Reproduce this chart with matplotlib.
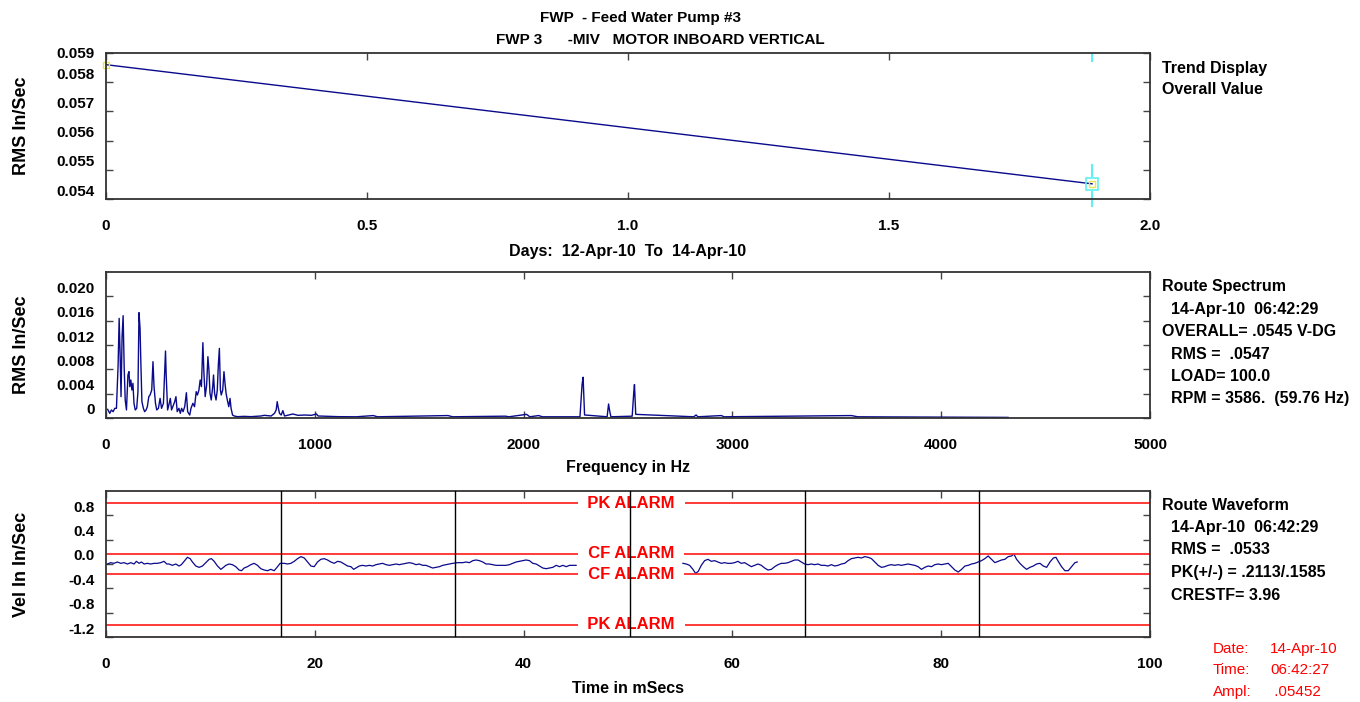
# -*- coding: utf-8 -*-
"""FWP 3 motor inboard vertical - trend, route spectrum and route waveform."""

import matplotlib.pyplot as plt
from matplotlib.transforms import ScaledTranslation

plt.rcParams["font.family"] = ["Liberation Sans", "DejaVu Sans"]
plt.rcParams["font.weight"] = "bold"
plt.rcParams["axes.labelweight"] = "bold"

# ---------------- data ----------------
trend_days = [0.0, 1.889]
trend_rms = [0.0586, 0.05452]

spec_hz = [8, 18, 26, 34, 42, 50, 58, 63, 68, 72,
           77, 82, 87, 92, 98, 105, 110, 114, 119, 124,
           129, 134, 140, 147, 153, 158, 163, 167, 172, 179,
           185, 192, 198, 205, 211, 219, 225, 230, 237, 243,
           251, 259, 266, 275, 282, 285, 288, 295, 301, 308,
           314, 320, 329, 335, 341, 349, 356, 362, 369, 377,
           385, 391, 401, 407, 416, 424, 432, 438, 445, 451,
           457, 464, 469, 475, 482, 488, 493, 498, 504, 511,
           515, 520, 527, 533, 538, 543, 548, 552, 559, 565,
           570, 575, 581, 588, 594, 599, 606, 614, 630, 662,
           694, 742, 758, 791, 807, 815, 820, 824, 831, 839,
           847, 855, 895, 919, 952, 984, 1008, 1016, 1113, 1200,
           1280, 1300, 1638, 1660, 1913, 1930, 2014, 2030, 2072, 2090,
           2270, 2280, 2285, 2292, 2400, 2407, 2412, 2418, 2520, 2528,
           2531, 2537, 2815, 2826, 2835, 2947, 2960, 3570, 3600, 4320]
spec_amp = [0.00142, 0.00077, 0.00132, 0.00104, 0.00159, 0.00159, 0.00871, 0.01638, 0.00981, 0.00351,
            0.01337, 0.01682, 0.00844, 0.00296, 0.00132, 0.00707, 0.00762, 0.00515, 0.00625, 0.00460,
            0.00570, 0.00241, 0.00132, 0.00159, 0.00433, 0.01732, 0.01474, 0.00899, 0.00269, 0.00159,
            0.00104, 0.00132, 0.00186, 0.00351, 0.00378, 0.00460, 0.00926, 0.00515, 0.00241, 0.00132,
            0.00159, 0.00323, 0.00159, 0.00241, 0.00817, 0.01101, 0.00734, 0.00132, 0.00214, 0.00323,
            0.00132, 0.00186, 0.00269, 0.00351, 0.00104, 0.00159, 0.00077, 0.00159, 0.00104, 0.00186,
            0.00416, 0.00104, 0.00049, 0.00159, 0.00241, 0.00186, 0.00433, 0.00378, 0.00460, 0.00625,
            0.00515, 0.01238, 0.00734, 0.00351, 0.00543, 0.01008, 0.00789, 0.00406, 0.00296, 0.00515,
            0.00707, 0.00406, 0.00296, 0.00460, 0.00871, 0.01145, 0.00460, 0.00378, 0.00460, 0.00762,
            0.00570, 0.00406, 0.00296, 0.00186, 0.00323, 0.00159, 0.00049, 0.00033, 0.00022, 0.00027,
            0.00022, 0.00033, 0.00044, 0.00033, 0.00077, 0.00132, 0.00269, 0.00186, 0.00077, 0.00049,
            0.00121, 0.00033, 0.00066, 0.00044, 0.00049, 0.00044, 0.00066, 0.00033, 0.00022, 0.00020,
            0.00040, 0.00020, 0.00040, 0.00020, 0.00030, 0.00020, 0.00060, 0.00020, 0.00040, 0.00020,
            0.00020, 0.00550, 0.00670, 0.00050, 0.00020, 0.00230, 0.00120, 0.00020, 0.00030, 0.00440,
            0.00550, 0.00060, 0.00020, 0.00050, 0.00020, 0.00040, 0.00020, 0.00040, 0.00020, 0.00010]

wave1_ms = [0.13, 0.45, 0.77, 1.09, 1.41, 1.73, 2.05, 2.37, 2.69, 2.91,
            3.17, 3.39, 3.65, 3.96, 4.28, 4.60, 4.92, 5.24, 5.56, 5.82,
            6.04, 6.36, 6.68, 7.00, 7.22, 7.48, 7.80, 8.06, 8.28, 8.60,
            8.92, 9.24, 9.56, 9.88, 10.10, 10.36, 10.68, 11.00, 11.25, 11.48,
            11.79, 12.11, 12.43, 12.75, 12.98, 13.23, 13.55, 13.87, 14.19, 14.51,
            14.83, 15.15, 15.47, 15.79, 16.11, 16.43, 16.68, 17.07, 17.39, 17.71,
            18.03, 18.35, 18.67, 18.99, 19.31, 19.63, 19.94, 20.26, 20.58, 20.90,
            21.22, 21.54, 21.86, 22.18, 22.50, 22.82, 23.14, 23.46, 23.72, 23.94,
            24.26, 24.58, 24.90, 25.22, 25.54, 25.86, 26.18, 26.50, 26.82, 27.14,
            27.46, 27.78, 28.09, 28.41, 28.73, 29.05, 29.37, 29.69, 30.01, 30.33,
            30.65, 30.97, 31.29, 31.61, 31.93, 32.25, 32.57, 32.89, 33.21, 33.69,
            34.17, 34.49, 34.81, 35.13, 35.45, 35.77, 36.09, 36.40, 36.72, 37.04,
            37.36, 37.68, 38.00, 38.32, 38.64, 38.96, 39.28, 39.60, 39.92, 40.24,
            40.56, 40.88, 41.20, 41.52, 41.84, 42.16, 42.48, 42.80, 43.12, 43.44,
            43.76, 44.08, 44.40, 44.71, 45.03]
wave1_vel = [0.000, 0.022, 0.011, 0.033, 0.011, 0.022, 0.000, 0.022, 0.000, 0.044,
             0.011, 0.033, 0.000, 0.011, 0.000, 0.011, 0.011, 0.022, 0.044, 0.000,
             0.000, -0.022, 0.000, -0.033, -0.011, 0.044, 0.110, 0.088, 0.033, -0.033,
             -0.055, -0.033, 0.022, 0.077, 0.088, 0.044, -0.033, -0.088, -0.055, -0.022,
             0.000, -0.011, -0.044, -0.099, -0.110, -0.066, -0.044, -0.011, 0.011, -0.022,
             -0.077, -0.099, -0.110, -0.088, -0.110, -0.044, 0.011, 0.011, 0.000, 0.011,
             0.044, 0.088, 0.121, 0.099, 0.033, -0.033, -0.044, 0.033, 0.077, 0.088,
             0.066, 0.033, 0.011, 0.044, 0.033, 0.000, -0.033, -0.044, -0.088, -0.066,
             -0.033, -0.022, -0.033, -0.022, -0.033, -0.011, 0.000, 0.011, -0.011, -0.022,
             -0.011, 0.000, -0.011, 0.000, 0.011, 0.022, 0.011, -0.011, 0.000, -0.022,
             -0.022, -0.044, -0.066, -0.055, -0.044, -0.022, -0.011, 0.000, 0.011, 0.022,
             0.022, 0.033, 0.022, 0.055, 0.066, 0.055, 0.033, 0.000, 0.000, -0.011,
             -0.022, -0.022, -0.022, -0.022, -0.011, 0.011, 0.033, 0.044, 0.055, 0.066,
             0.055, 0.011, 0.000, -0.033, -0.066, -0.077, -0.066, -0.055, -0.022, -0.044,
             -0.022, -0.044, -0.022, -0.022, -0.022]

wave2_ms = [55.26, 55.58, 55.90, 56.22, 56.47, 56.73, 57.02, 57.34, 57.66, 57.98,
            58.30, 58.61, 58.93, 59.25, 59.57, 59.89, 60.21, 60.53, 60.85, 61.17,
            61.49, 61.81, 62.13, 62.45, 62.77, 63.09, 63.41, 63.73, 64.05, 64.37,
            64.69, 65.01, 65.33, 65.65, 65.97, 66.29, 66.60, 66.92, 67.24, 67.56,
            67.88, 68.20, 68.52, 68.84, 69.16, 69.48, 69.80, 70.12, 70.44, 70.76,
            71.08, 71.40, 71.72, 72.04, 72.36, 72.68, 73.00, 73.32, 73.64, 73.96,
            74.28, 74.59, 74.91, 75.23, 75.55, 75.87, 76.19, 76.51, 76.83, 77.15,
            77.47, 77.79, 78.11, 78.43, 78.75, 79.07, 79.39, 79.71, 80.03, 80.35,
            80.67, 80.99, 81.31, 81.63, 81.95, 82.27, 82.59, 82.90, 83.22, 83.54,
            83.86, 84.18, 84.50, 84.82, 85.14, 85.46, 85.78, 86.10, 86.42, 86.74,
            86.96, 87.22, 87.54, 87.86, 88.18, 88.50, 88.82, 89.14, 89.46, 89.78,
            90.10, 90.42, 90.74, 90.99, 91.21, 91.53, 91.85, 92.17, 92.49, 92.81,
            93.03]
wave2_vel = [0.011, 0.000, -0.022, -0.088, -0.154, -0.121, -0.022, 0.055, 0.077, 0.044,
             0.055, 0.033, 0.011, 0.022, 0.011, 0.011, 0.022, 0.044, 0.011, 0.022,
             -0.011, -0.044, -0.022, 0.000, -0.022, -0.066, -0.099, -0.088, -0.044, -0.011,
             0.011, 0.011, 0.022, 0.044, 0.066, 0.066, 0.033, 0.000, -0.011, 0.000,
             -0.011, 0.000, -0.022, -0.022, -0.033, -0.011, -0.033, -0.022, 0.000, 0.011,
             0.055, 0.088, 0.099, 0.110, 0.099, 0.121, 0.110, 0.088, 0.033, -0.022,
             -0.055, -0.044, -0.022, -0.011, -0.022, -0.011, -0.022, -0.011, 0.000, -0.011,
             -0.022, -0.044, -0.088, -0.055, -0.033, -0.044, -0.011, 0.000, -0.011, 0.000,
             0.011, -0.044, -0.099, -0.132, -0.088, -0.033, -0.022, 0.000, 0.011, 0.033,
             0.055, 0.088, 0.132, 0.077, 0.022, 0.044, 0.066, 0.077, 0.121, 0.132,
             0.165, 0.077, 0.011, -0.044, -0.088, -0.055, -0.033, 0.000, 0.011, -0.033,
             -0.055, 0.033, 0.099, 0.110, 0.044, -0.044, -0.110, -0.110, -0.044, 0.022,
             0.033]

pk_alarm = [1.0, -1.0]
cf_alarm = [0.165, -0.165]
rev_marks_ms = [16.73, 33.47, 50.20, 66.93, 83.66]

trend_info = ["Trend Display", "Overall Value"]
spec_info = ["Route Spectrum", "  14-Apr-10  06:42:29", "OVERALL= .0545 V-DG",
             "  RMS =  .0547", "  LOAD= 100.0", "  RPM = 3586.  (59.76 Hz)"]
wave_info = ["Route Waveform", "  14-Apr-10  06:42:29", "  RMS =  .0533",
             "  PK(+/-) = .2113/.1585", "  CRESTF= 3.96"]
cursor_keys = ["Date:", "Time:", "Ampl:"]
cursor_vals = ["14-Apr-10", "06:42:27", " .05452"]

NAVY = "#0a0a8c"
RED = "#ff2a2a"
CYAN = "#5ff0f0"
YELLOW = "#e6e65a"

fig = plt.figure(figsize=(13.6, 7.02), dpi=100)
left = 106 / 1360
width = (1150 - 106) / 1360
ax1 = fig.add_axes([left, 1 - 199 / 702, width, 146 / 702])
ax2 = fig.add_axes([left, 1 - 418 / 702, width, 146 / 702])
ax3 = fig.add_axes([left, 1 - 637 / 702, width, 146 / 702])

lift = ScaledTranslation(0, 9 / 100, fig.dpi_scale_trans)


def style_axes(ax):
    for sp in ax.spines.values():
        sp.set_color("#333333")
        sp.set_linewidth(1.3)
    ax.tick_params(direction="in", top=True, right=True, length=5, width=1,
                   color="#444444", labelsize=11)
    ax.tick_params(axis="x", pad=14.5)
    ax.tick_params(axis="y", pad=8)


# ---- top: trend ----
ax1.plot(trend_days, trend_rms, color=NAVY, lw=1)
ax1.plot(trend_days[0], trend_rms[0], "s", ms=5, mfc="none", mec=YELLOW, mew=1, clip_on=False)
ax1.plot(trend_days[-1], trend_rms[-1], "s", ms=8, mfc="none", mec=CYAN, mew=1.2, zorder=5)
ax1.plot(trend_days[-1], trend_rms[-1], "s", ms=4, mfc="none", mec=YELLOW, mew=1, zorder=6)
ax1.axvline(trend_days[-1], 0.945, 1.0, color=CYAN, lw=1.5)
ax1.axvline(trend_days[-1], 0.155, 0.235, color=CYAN, lw=1.5)
ax1.axvline(trend_days[-1], -0.045, 0.045, color=CYAN, lw=1.5, clip_on=False)
ax1.set_xlim(0, 2.0)
ax1.set_ylim(0.054, 0.059)
ax1.set_xticks([0, 0.5, 1.0, 1.5, 2.0], ["0", "0.5", "1.0", "1.5", "2.0"])
ax1.set_yticks([0.054, 0.055, 0.056, 0.057, 0.058, 0.059],
               ["0.054", "0.055", "0.056", "0.057", "0.058", "0.059"])
style_axes(ax1)
ax1.set_xlabel("Days:  12-Apr-10  To  14-Apr-10", fontsize=11.5)
ax1.xaxis.set_label_coords(0.5, -0.31)
ax1.set_ylabel("RMS In/Sec", fontsize=13)
ax1.yaxis.set_label_coords(-0.073, 0.5)
for lab in ax1.get_yticklabels()[:-1]:
    lab.set_transform(lab.get_transform() + lift)

# ---- middle: spectrum ----
ax2.plot(spec_hz, spec_amp, color=NAVY, lw=1)
ax2.set_xlim(0, 5000)
ax2.set_ylim(0, 0.024)
ax2.set_xticks([0, 1000, 2000, 3000, 4000, 5000])
ax2.set_yticks([0, 0.004, 0.008, 0.012, 0.016, 0.020],
               ["0", "0.004", "0.008", "0.012", "0.016", "0.020"])
style_axes(ax2)
ax2.set_xlabel("Frequency in Hz", fontsize=11.5)
ax2.xaxis.set_label_coords(0.5, -0.285)
ax2.set_ylabel("RMS In/Sec", fontsize=13)
ax2.yaxis.set_label_coords(-0.073, 0.5)
for lab in ax2.get_yticklabels():
    lab.set_transform(lab.get_transform() + lift)

# ---- bottom: waveform ----
ax3.plot(wave1_ms, wave1_vel, color=NAVY, lw=0.9)
ax3.plot(wave2_ms, wave2_vel, color=NAVY, lw=0.9)
for lvl in pk_alarm + cf_alarm:
    ax3.axhline(lvl, color=RED, lw=1.3, zorder=2)
for lvl in pk_alarm:
    ax3.text(50.3, lvl, "  PK ALARM  ", ha="center", va="center", color="red", fontsize=12,
             bbox=dict(facecolor="white", edgecolor="none", pad=0.5), zorder=4)
for lvl in cf_alarm:
    ax3.text(50.3, lvl, "  CF ALARM  ", ha="center", va="center", color="red", fontsize=12,
             bbox=dict(facecolor="white", edgecolor="none", pad=0.5), zorder=4)
for t in rev_marks_ms:
    ax3.axvline(t, color="black", lw=1, zorder=5)
ax3.set_xlim(0, 100)
ax3.set_ylim(-1.2, 1.2)
ax3.set_xticks([0, 20, 40, 60, 80, 100])
ax3.set_yticks([-1.2, -0.8, -0.4, 0.0, 0.4, 0.8],
               ["-1.2", "-0.8", "-0.4", "0.0", "0.4", "0.8"])
style_axes(ax3)
ax3.set_xlabel("Time in mSecs", fontsize=11.5)
ax3.xaxis.set_label_coords(0.5, -0.30)
ax3.set_ylabel("Vel In In/Sec", fontsize=13)
ax3.yaxis.set_label_coords(-0.073, 0.5)
for lab in ax3.get_yticklabels():
    lab.set_transform(lab.get_transform() + lift)

# ---- titles and side notes ----
fig.text(641 / 1360, 1 - 18 / 702, "FWP  - Feed Water Pump #3", ha="center", va="center", fontsize=11)
fig.text(660 / 1360, 1 - 40 / 702, "FWP 3      -MIV   MOTOR INBOARD VERTICAL",
         ha="center", va="center", fontsize=11)

for i, s in enumerate(trend_info):
    fig.text(1162 / 1360, 1 - (68 + 21 * i) / 702, s, ha="left", va="center", fontsize=11.5)
for i, s in enumerate(spec_info):
    fig.text(1162 / 1360, 1 - (287 + 22.4 * i) / 702, s, ha="left", va="center", fontsize=11.5)
for i, s in enumerate(wave_info):
    fig.text(1162 / 1360, 1 - (505 + 22.5 * i) / 702, s, ha="left", va="center", fontsize=11.5)
for i, (k, v) in enumerate(zip(cursor_keys, cursor_vals)):
    fig.text(1213 / 1360, 1 - (649 + 21.5 * i) / 702, k, ha="left", va="center",
             fontsize=11, color="red", fontweight="normal")
    fig.text(1270 / 1360, 1 - (649 + 21.5 * i) / 702, v, ha="left", va="center",
             fontsize=11, color="red", fontweight="normal")

fig.savefig("out.png", dpi=100)
plt.close(fig)
